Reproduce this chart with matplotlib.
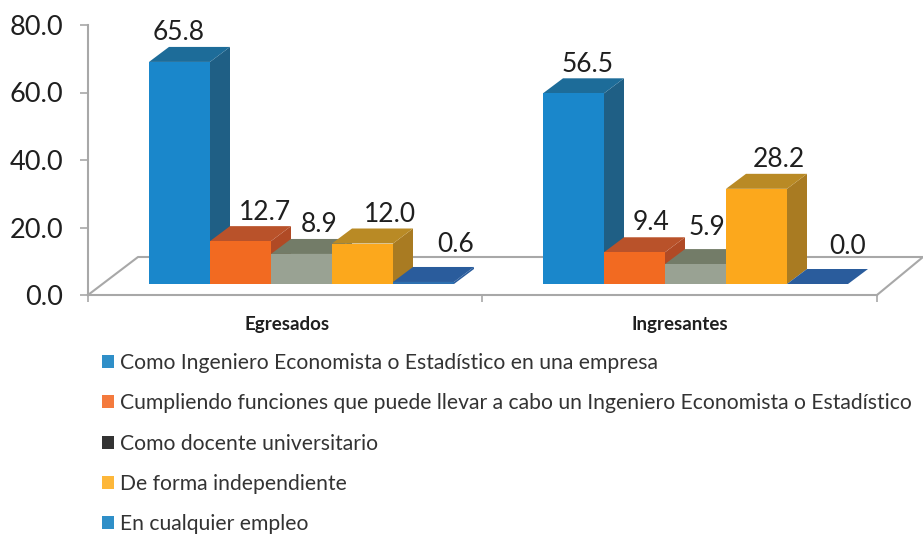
"""Pseudo-3D clustered column chart of job expectations."""

import matplotlib

matplotlib.use("Agg")
import matplotlib.pyplot as plt
from matplotlib.patches import Patch, Polygon

plt.rcParams["font.family"] = ["Lato", "DejaVu Sans"]

groups = ["Egresados", "Ingresantes"]
series = [
    "Como Ingeniero Economista o Estadístico en una empresa",
    "Cumpliendo funciones que puede llevar a cabo un Ingeniero Economista o Estadístico",
    "Como docente universitario",
    "De forma independiente",
    "En cualquier empleo",
]
egresados = [65.8, 12.7, 8.9, 12.0, 0.6]
ingresantes = [56.5, 9.4, 5.9, 28.2, 0.0]
y_ticks = [0, 20, 40, 60, 80]

front_colors = ["#1a87cb", "#f26a21", "#99a293", "#fca81c", "#2d70b0"]
top_colors = ["#1d6c99", "#b9522a", "#737c68", "#b98a25", "#2a5c9c"]
side_colors = ["#1f5f85", "#b04a25", "#737c68", "#a97b22", "#2a5c9c"]
legend_colors = ["#2f8fc8", "#f47a3d", "#333333", "#fdb73a", "#2f8fc8"]

AXIS_GREY = "#a8a8a8"
TEXT_DARK = "#1f1f1f"
SLOT = 61
DEPTH_X = 20
PX_PER_UNIT = 270 / 80
DEPTH_Y = 15 / PX_PER_UNIT
FLOOR_LIFT = 11 / PX_PER_UNIT
FLOOR_BACK = 38 / PX_PER_UNIT


def draw_column(ax, x0, value, idx):
    """Draw the front, top and side faces of one column."""
    x1 = x0 + SLOT
    y0 = FLOOR_LIFT
    y1 = FLOOR_LIFT + value
    faces = [
        ([(x1, y0), (x1 + DEPTH_X, y0 + DEPTH_Y), (x1 + DEPTH_X, y1 + DEPTH_Y), (x1, y1)], side_colors[idx]),
        ([(x0, y1), (x1, y1), (x1 + DEPTH_X, y1 + DEPTH_Y), (x0 + DEPTH_X, y1 + DEPTH_Y)], top_colors[idx]),
        ([(x0, y0), (x1, y0), (x1, y1), (x0, y1)], front_colors[idx]),
    ]
    for points, color in faces:
        ax.add_patch(Polygon(points, closed=True, facecolor=color, edgecolor="none", clip_on=False, zorder=3))


def main() -> None:
    fig = plt.figure(figsize=(9.23, 5.34), dpi=100)
    ax = fig.add_axes([88 / 923, 1 - 295 / 534, 789 / 923, 270 / 534])
    ax.set_xlim(0, 789)
    ax.set_ylim(0, 80)

    # Floor of the 3D box.
    ax.plot([0, 50, 835, 789], [0, FLOOR_BACK, FLOOR_BACK, 0], color=AXIS_GREY, lw=1.5, clip_on=False, zorder=1)

    label_shift = [
        [(30, 29), (55, 29), (48, 29), (58, 29), (63, 37)],
        [(45, 29), (47, 30), (42, 37), (53, 29), (61, 37)],
    ]
    for g, (start, values) in enumerate(zip([61, 455], [egresados, ingresantes])):
        for i, value in enumerate(values):
            x0 = start + i * SLOT
            draw_column(ax, x0, value, i)
            dx, dy = label_shift[g][i]
            ax.annotate(
                f"{value:.1f}",
                xy=(x0, FLOOR_LIFT + value),
                xytext=(dx, dy),
                textcoords="offset pixels",
                ha="center",
                va="center",
                fontsize=19,
                color=TEXT_DARK,
                zorder=5,
            )

    for name in ["top", "right"]:
        ax.spines[name].set_visible(False)
    for name in ["left", "bottom"]:
        ax.spines[name].set_color(AXIS_GREY)
        ax.spines[name].set_linewidth(1.5)

    ax.set_yticks(y_ticks)
    ax.set_yticklabels([f"{v:.1f}" for v in y_ticks], fontsize=19.5, color=TEXT_DARK)
    ax.tick_params(axis="y", color=AXIS_GREY, length=6, width=1.2, pad=12)

    ax.set_xticks([0, 394, 789])
    ax.set_xticklabels([])
    ax.set_xticks([199, 592], labels=groups, minor=True, fontsize=13.5, fontweight="bold", color=TEXT_DARK)
    ax.tick_params(axis="x", which="major", color=AXIS_GREY, length=5, width=1.2)
    ax.tick_params(axis="x", which="minor", length=0, pad=15)

    handles = [Patch(facecolor=c, edgecolor="none") for c in legend_colors]
    fig.legend(
        handles,
        series,
        loc="upper left",
        bbox_to_anchor=(102 / 923, 1 - 353 / 534),
        borderaxespad=0,
        borderpad=0,
        frameon=False,
        fontsize=15.2,
        labelcolor="#333333",
        labelspacing=0.96,
        handlelength=0.57,
        handleheight=0.57,
        handletextpad=0.28,
    )

    fig.savefig("out.png", dpi=100)
    plt.close(fig)


if __name__ == "__main__":
    main()
